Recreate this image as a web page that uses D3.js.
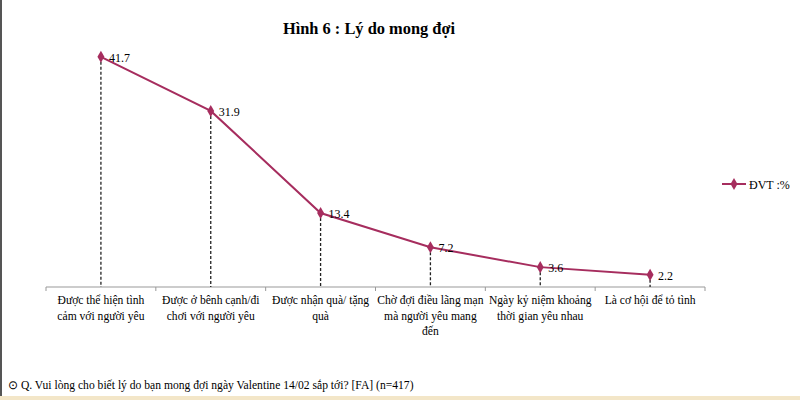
<!DOCTYPE html>
<html>
<head>
<meta charset="utf-8">
<script src="https://cdn.jsdelivr.net/npm/d3@7"></script>
<style>
  html, body { margin: 0; padding: 0; background: #fff; }
  svg { display: block; font-family: "Liberation Serif", "Times New Roman", serif; }
</style>
</head>
<body>
<svg id="chart" width="800" height="400"></svg>
<script>
const title = "Hình 6 : Lý do mong đợi";
const categories = [
  "Được thể hiện tình\ncảm với người yêu",
  "Được ở bênh cạnh/đi\nchơi với người yêu",
  "Được nhận quà/ tặng\nquà",
  "Chờ đợi điều lãng mạn\nmà người yêu mang\nđến",
  "Ngày kỷ niệm khoảng\nthời gian yêu nhau",
  "Là cơ hội để tỏ tình"
];
const values = [41.7, 31.9, 13.4, 7.2, 3.6, 2.2];
const seriesName = "ĐVT :%";
const footnote = "⊙ Q. Vui lòng cho biết lý do bạn mong đợi ngày Valentine 14/02 sắp tới? [FA] (n=417)";

const color = "#A62D5E";
const svg = d3.select("#chart");

// frame decorations
svg.append("rect").attr("x", 0).attr("y", 0).attr("width", 800).attr("height", 400).attr("fill", "#fff");
svg.append("line").attr("x1", 1).attr("x2", 1).attr("y1", 0).attr("y2", 396)
  .attr("stroke", "#555").attr("stroke-width", 2);
svg.append("rect").attr("x", 0).attr("y", 396).attr("width", 800).attr("height", 4).attr("fill", "#F3E6C8");

const x = d3.scaleBand().domain(categories).range([46, 705]).padding(0);
const y = d3.scaleLinear().domain([0, 45]).range([287, 287 - 45 * 5.52]);

// title
svg.append("text").attr("x", 369).attr("y", 34).attr("text-anchor", "middle")
  .attr("font-size", 16.4).attr("font-weight", "bold").attr("fill", "#000").text(title);

// x axis
const xAxis = d3.axisBottom(x).tickSize(0).tickFormat("");
const gx = svg.append("g").attr("transform", "translate(0,287)").call(xAxis);
gx.select(".domain").attr("stroke", "#999").attr("stroke-width", 1).attr("d", "M46,0H705");
const bounds = categories.map(c => x(c)).concat([x(categories[categories.length - 1]) + x.bandwidth()]);
gx.selectAll(".bt").data(bounds).join("line").attr("class", "bt")
  .attr("x1", d => d).attr("x2", d => d).attr("y1", 0).attr("y2", 4)
  .attr("stroke", "#999");

// category labels
const lab = svg.append("g").attr("font-size", 11.6).attr("fill", "#000");
categories.forEach(c => {
  const lines = c.split("\n");
  const t = lab.append("text").attr("text-anchor", "middle");
  lines.forEach((ln, i) => {
    t.append("tspan").attr("x", x(c) + x.bandwidth() / 2).attr("y", 304 + i * 15.5).text(ln);
  });
});

const cx = c => x(c) + x.bandwidth() / 2;
const data = categories.map((c, i) => ({ c, v: values[i] }));

// drop lines
svg.append("g").selectAll("line").data(data).join("line")
  .attr("x1", d => cx(d.c)).attr("x2", d => cx(d.c))
  .attr("y1", d => y(d.v)).attr("y2", 287)
  .attr("stroke", "#222").attr("stroke-width", 1.3).attr("stroke-dasharray", "3,2");

// line
svg.append("path").datum(data)
  .attr("fill", "none").attr("stroke", color).attr("stroke-width", 2)
  .attr("d", d3.line().x(d => cx(d.c)).y(d => y(d.v)));

// markers
const sym = d3.symbol().type(d3.symbolDiamond).size(42);
svg.append("g").selectAll("path").data(data).join("path")
  .attr("transform", d => `translate(${cx(d.c)},${y(d.v)})`)
  .attr("d", sym).attr("fill", color);

// value labels
svg.append("g").selectAll("text").data(data).join("text")
  .attr("x", d => cx(d.c) + 8).attr("y", d => y(d.v) + 5)
  .attr("font-size", 12).attr("fill", "#000")
  .text(d => d3.format(".1f")(d.v));

// legend
const lg = svg.append("g").attr("transform", "translate(722,184)");
lg.append("line").attr("x1", 0).attr("x2", 24).attr("y1", 0).attr("y2", 0)
  .attr("stroke", color).attr("stroke-width", 2);
lg.append("path").attr("transform", "translate(12,0)").attr("d", sym).attr("fill", color);
lg.append("text").attr("x", 27).attr("y", 4.5).attr("font-size", 12).attr("fill", "#000").text(seriesName);

// footnote
svg.append("text").attr("x", 8).attr("y", 389).attr("font-size", 11.6).attr("fill", "#000").text(footnote);
</script>
</body>
</html>
